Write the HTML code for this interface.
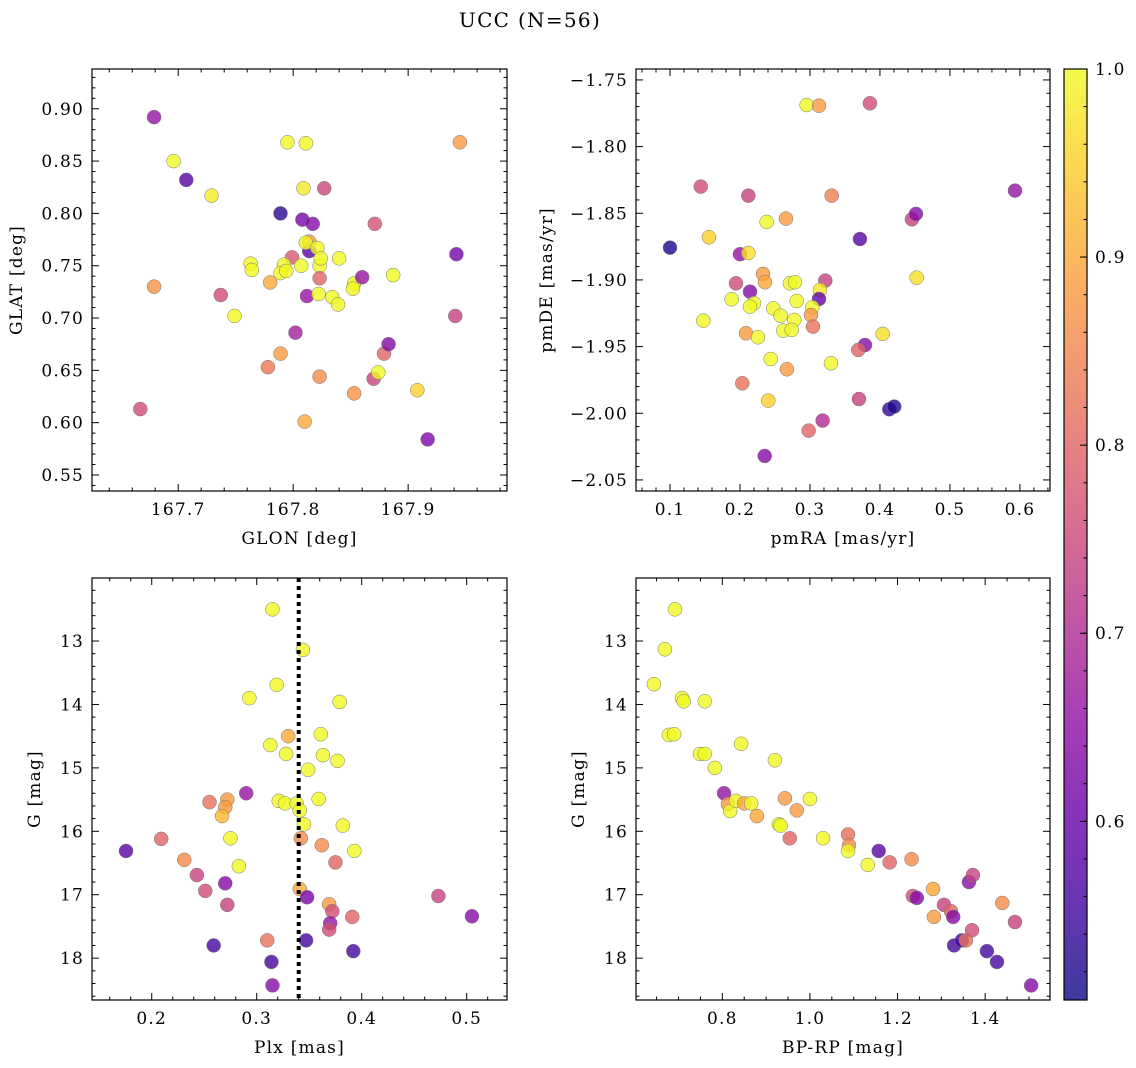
<!DOCTYPE html>
<html><head><meta charset="utf-8"><style>
body{margin:0;background:#fff}
svg{display:block;font-family:"DejaVu Serif","Liberation Serif",serif}
</style></head><body>
<svg id="fig" width="1136" height="1068" viewBox="0 0 1136 1068" xmlns="http://www.w3.org/2000/svg">
<defs>
<linearGradient id="plasma" x1="0" y1="1" x2="0" y2="0">
<stop offset="0" stop-color="#0d0887"/><stop offset="0.1" stop-color="#41049d"/><stop offset="0.2" stop-color="#6a00a8"/><stop offset="0.3" stop-color="#8f0da4"/><stop offset="0.4" stop-color="#b12a90"/><stop offset="0.5" stop-color="#cc4778"/><stop offset="0.6" stop-color="#e16462"/><stop offset="0.7" stop-color="#f2844b"/><stop offset="0.8" stop-color="#fca636"/><stop offset="0.9" stop-color="#fcce25"/><stop offset="1" stop-color="#f0f921"/>
</linearGradient>
</defs>
<text x="530" y="27" font-size="20" letter-spacing="1.3" text-anchor="middle">UCC (N=56)</text>
</svg>
<script>
// ---- data ----
const tlX=[167.679,167.696,167.707,167.729,167.679,167.667,167.737,167.749,167.763,167.764,167.780,167.778,167.789,167.789,167.795,167.811,167.809,167.808,167.817,167.827,167.814,167.814,167.811,167.799,167.792,167.789,167.794,167.807,167.821,167.823,167.824,167.823,167.812,167.822,167.834,167.839,167.840,167.802,167.823,167.810,167.853,167.852,167.860,167.871,167.853,167.870,167.874,167.879,167.883,167.887,167.908,167.917,167.941,167.942,167.945];
const tlY=[0.892,0.850,0.832,0.817,0.730,0.613,0.722,0.702,0.752,0.746,0.734,0.653,0.666,0.800,0.868,0.867,0.824,0.794,0.790,0.824,0.764,0.773,0.772,0.758,0.751,0.743,0.745,0.750,0.767,0.750,0.757,0.738,0.721,0.723,0.720,0.713,0.757,0.686,0.644,0.601,0.733,0.728,0.739,0.790,0.628,0.642,0.648,0.666,0.675,0.741,0.631,0.584,0.702,0.761,0.868];
const tlC=[0.66,1,0.58,0.98,0.87,0.76,0.76,1,1,1,0.9,0.83,0.88,0.53,1,1,0.98,0.62,0.64,0.75,0.58,0.88,1,0.78,1,1,1,1,1,1,1,0.8,0.66,1,1,1,1,0.68,0.86,0.9,1,1,0.66,0.77,0.87,0.74,1,0.8,0.64,1,0.95,0.63,0.74,0.62,0.88];

const trX=[0.2953,0.3129,0.3857,0.1439,0.2119,0.3310,0.4457,0.4514,0.2381,0.2657,0.1557,0.100,0.3714,0.200,0.2119,0.4524,0.2329,0.2357,0.1943,0.2714,0.2786,0.3219,0.2143,0.3143,0.3129,0.1881,0.2200,0.2143,0.2810,0.2476,0.3033,0.3014,0.2581,0.1476,0.2776,0.2619,0.2739,0.3043,0.2086,0.2257,0.4039,0.3786,0.3690,0.2439,0.2671,0.3300,0.2033,0.2404,0.3700,0.4133,0.4204,0.3181,0.2981,0.2353,0.593];
const trY=[-1.7688,-1.7693,-1.7675,-1.8300,-1.8368,-1.8368,-1.8545,-1.8505,-1.8565,-1.8540,-1.8680,-1.8758,-1.8693,-1.8807,-1.8798,-1.8983,-1.8955,-1.9017,-1.9025,-1.9025,-1.9017,-1.9005,-1.9088,-1.9075,-1.9143,-1.9145,-1.9175,-1.9200,-1.9158,-1.9213,-1.9205,-1.9263,-1.9268,-1.9305,-1.9300,-1.9380,-1.9375,-1.9350,-1.9400,-1.9430,-1.9405,-1.9488,-1.9525,-1.9593,-1.9670,-1.9625,-1.9775,-1.9905,-1.9893,-1.9970,-1.9950,-2.0055,-2.0130,-2.0320,-1.833];
const trC=[1,0.88,0.76,0.76,0.74,0.84,0.74,0.64,1,0.88,0.95,0.52,0.58,0.66,0.97,0.97,0.88,0.9,0.76,1,1,0.74,0.64,0.98,0.6,1,1,1,1,1,1,0.88,1,1,1,1,1,0.82,0.88,1,0.97,0.64,0.8,1,0.88,1,0.82,0.95,0.74,0.54,0.52,0.7,0.8,0.64,0.66];

const blX=[0.1755,0.209,0.231,0.243,0.251,0.255,0.259,0.270,0.272,0.272,0.270,0.267,0.275,0.283,0.290,0.293,0.310,0.314,0.315,0.315,0.313,0.319,0.321,0.327,0.328,0.330,0.338,0.341,0.344,0.341,0.342,0.345,0.348,0.347,0.349,0.361,0.363,0.359,0.362,0.369,0.372,0.370,0.369,0.375,0.379,0.377,0.382,0.391,0.392,0.393,0.473,0.505];
const blY=[16.31,16.12,16.45,16.69,16.94,15.54,17.80,16.82,17.16,15.50,15.62,15.76,16.11,16.55,15.40,13.90,17.72,18.06,18.43,12.50,14.64,13.69,15.52,15.56,14.78,14.50,15.56,15.67,13.14,16.91,16.11,15.89,17.04,17.72,15.03,14.47,14.80,15.49,16.22,17.15,17.26,17.45,17.55,16.49,13.96,14.89,15.91,17.35,17.89,16.31,17.02,17.34];
const blC=[0.58,0.8,0.86,0.74,0.76,0.82,0.56,0.64,0.74,0.88,0.88,0.92,1,1,0.66,1,0.82,0.56,0.64,1,1,1,1,1,1,0.9,1,1,1,0.9,0.86,1,0.62,0.56,1,1,1,1,0.86,0.88,0.76,0.66,0.76,0.8,1,1,1,0.8,0.56,1,0.74,0.64];

const brX=[0.644,0.669,0.692,0.678,0.690,0.708,0.712,0.760,0.749,0.760,0.783,0.804,0.813,0.818,0.831,0.843,0.850,0.866,0.879,0.920,0.929,0.933,0.943,0.954,0.970,1.000,1.030,1.087,1.089,1.087,1.132,1.157,1.182,1.232,1.235,1.244,1.281,1.283,1.306,1.322,1.327,1.329,1.347,1.356,1.363,1.372,1.370,1.404,1.427,1.439,1.468,1.505];
const brY=[13.68,13.13,12.50,14.48,14.47,13.90,13.95,13.95,14.78,14.78,15.00,15.40,15.57,15.68,15.52,14.62,15.56,15.56,15.76,14.88,15.89,15.91,15.48,16.11,15.67,15.49,16.11,16.05,16.22,16.31,16.53,16.31,16.49,16.44,17.02,17.05,16.91,17.35,17.16,17.26,17.35,17.80,17.72,17.72,16.80,16.69,17.56,17.89,18.06,17.13,17.43,18.43];
const brC=[1,1,1,1,1,1,1,1,1,1,1,0.66,0.88,1,1,1,0.9,1,0.9,1,1,1,0.88,0.8,0.88,1,1,0.82,0.86,1,1,0.58,0.8,0.86,0.76,0.64,0.9,0.88,0.74,0.8,0.64,0.56,0.56,0.82,0.64,0.74,0.76,0.56,0.56,0.86,0.74,0.64];

const vLinePlx=0.34;
const cMin=0.505, cMax=1.0;
const cbTicks=[0.6,0.7,0.8,0.9,1.0];

// ---- helpers ----
const NS="http://www.w3.org/2000/svg";
const svg=document.getElementById('fig');
const FS=17, LS=1.2;
function mk(tag,attrs,parent){const e=document.createElementNS(NS,tag);for(const k in attrs)e.setAttribute(k,attrs[k]);(parent||svg).appendChild(e);return e;}
const stops=[[13,8,135],[65,4,157],[106,0,168],[143,13,164],[177,42,144],[204,71,120],[225,100,98],[242,132,75],[252,166,54],[252,206,37],[240,249,33]];
function plasma(v){let t=(v-cMin)/(cMax-cMin);t=Math.max(0,Math.min(1,t))*10;const i=Math.min(9,Math.floor(t)),f=t-i;const a=stops[i],b=stops[i+1];return `rgb(${a.map((x,k)=>Math.round(x+(b[k]-x)*f)).join(',')})`;}
function fmt(v,d){const s=Math.abs(v).toFixed(d);return (v<-1e-9?'\u2212':'')+s;}

function panel(o){
  const g=mk('g',{});
  
  
  const L=o.l,R=o.r,T=o.t,B=o.b;
  const sx=v=>L+(v-o.x0)/(o.x1-o.x0)*(R-L);
  const sy=o.inv?(v=>T+(v-o.y0)/(o.y1-o.y0)*(B-T)):(v=>B-(v-o.y0)/(o.y1-o.y0)*(B-T));
  const pg=mk('g',{},g);
  
  
  for(let i=0;i<o.xs.length;i++){
    const c=mk('circle',{cx:sx(o.xs[i]),cy:sy(o.ys[i]),r:7,fill:plasma(o.cs[i]),'fill-opacity':0.8,stroke:'#777','stroke-width':0.5},pg);
    
    
  }
  if(o.vline!==undefined){
    const ln=mk('line',{x1:sx(o.vline),x2:sx(o.vline),y1:T,y2:B,stroke:'#000','stroke-width':4,'stroke-dasharray':'4,4'},g);
    
    
  }
  const tg=mk('g',{stroke:'#000','stroke-width':1},g);
  
  
  const eps=1e-7;
  for(let v=Math.ceil(o.x0/o.xmin-eps)*o.xmin;v<=o.x1+eps;v+=o.xmin){
    const x=sx(v);const maj=Math.abs(v/o.xmaj-Math.round(v/o.xmaj))<1e-4;const len=maj?7:3.5;
    mk('line',{x1:x,x2:x,y1:B,y2:B-len},tg);mk('line',{x1:x,x2:x,y1:T,y2:T+len},tg);
    if(maj){const t=mk('text',{x:x,y:B+24,'font-size':FS,'letter-spacing':LS,'text-anchor':'middle',stroke:'none',fill:'#000'},g);t.textContent=fmt(v,o.xd);}
  }
  for(let v=Math.ceil(o.y0/o.ymin-eps)*o.ymin;v<=o.y1+eps;v+=o.ymin){
    const y=sy(v);const maj=Math.abs(v/o.ymaj-Math.round(v/o.ymaj))<1e-4;const len=maj?7:3.5;
    mk('line',{x1:L,x2:L+len,y1:y,y2:y},tg);mk('line',{x1:R,x2:R-len,y1:y,y2:y},tg);
    if(maj){const t=mk('text',{x:L-8,y:y+6,'font-size':FS,'letter-spacing':LS,'text-anchor':'end',stroke:'none',fill:'#000'},g);t.textContent=fmt(v,o.yd);}
  }
  const fr=mk('rect',{x:L,y:T,width:R-L,height:B-T,fill:'none',stroke:'#000','stroke-width':1.2},g);
  
  
  const xl=mk('text',{x:(L+R)/2,y:B+53,'font-size':FS,'letter-spacing':LS,'text-anchor':'middle'},g);
  xl.textContent=o.xlab;
  
  
  const yx=o.ylx,yy=(T+B)/2;
  const yl=mk('text',{x:yx,y:yy,'font-size':FS,'letter-spacing':LS,'text-anchor':'middle',transform:`rotate(-90 ${yx} ${yy})`},g);
  yl.textContent=o.ylab;
  
  
}

panel({name:'glon-glat-panel',l:92,r:507,t:69,b:491,x0:167.625,x1:167.986,y0:0.5347,y1:0.938,xmaj:0.1,xmin:0.02,ymaj:0.05,ymin:0.01,xd:1,yd:2,xs:tlX,ys:tlY,cs:tlC,xlab:'GLON [deg]',ylab:'GLAT [deg]',ylx:22});
panel({name:'pm-panel',l:636,r:1050,t:69,b:491,x0:0.0514,x1:0.643,y0:-2.0583,y1:-1.7418,xmaj:0.1,xmin:0.02,ymaj:0.05,ymin:0.01,xd:1,yd:2,xs:trX,ys:trY,cs:trC,xlab:'pmRA [mas/yr]',ylab:'pmDE [mas/yr]',ylx:552});
panel({name:'plx-g-panel',l:92,r:507,t:578,b:1000,x0:0.1431,x1:0.5384,y0:12.006,y1:18.66,inv:true,xmaj:0.1,xmin:0.02,ymaj:1,ymin:0.2,xd:1,yd:0,xs:blX,ys:blY,cs:blC,vline:vLinePlx,xlab:'Plx [mas]',ylab:'G [mag]',ylx:40});
panel({name:'cmd-panel',l:636,r:1050,t:578,b:1000,x0:0.603,x1:1.548,y0:12.006,y1:18.66,inv:true,xmaj:0.2,xmin:0.05,ymaj:1,ymin:0.2,xd:1,yd:0,xs:brX,ys:brY,cs:brC,xlab:'BP-RP [mag]',ylab:'G [mag]',ylx:584});

const cb=mk('g',{});


const cbL=1064,cbR=1087,cbT=69,cbB=1000;
mk('rect',{x:cbL,y:cbT,width:cbR-cbL,height:cbB-cbT,fill:'url(#plasma)','fill-opacity':0.8},cb);
mk('rect',{x:cbL,y:cbT,width:cbR-cbL,height:cbB-cbT,fill:'none',stroke:'#000','stroke-width':1.2},cb);
const cy=v=>cbB-(v-cMin)/(cMax-cMin)*(cbB-cbT);
for(let v=0.52;v<=1.0001;v+=0.02){mk('line',{x1:cbR,x2:cbR-3.5,y1:cy(v),y2:cy(v),stroke:'#000'},cb);}
cbTicks.forEach(v=>{
  mk('line',{x1:cbR,x2:cbR-7,y1:cy(v),y2:cy(v),stroke:'#000'},cb);
  const t=mk('text',{x:cbR+8,y:cy(v)+6,'font-size':FS,'letter-spacing':LS},cb);
  t.textContent=v.toFixed(1);
  
  
});
</script>
</body></html>
